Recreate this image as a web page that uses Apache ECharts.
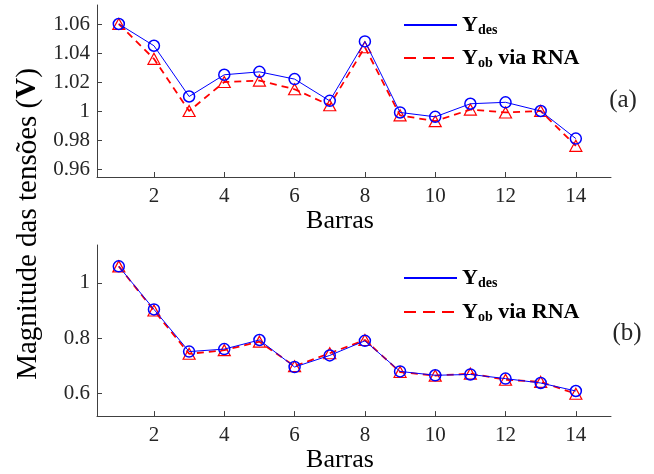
<!DOCTYPE html>
<html>
<head>
<meta charset="utf-8">
<script src="https://cdn.jsdelivr.net/npm/echarts@6/dist/echarts.min.js"></script>
<style>
  html, body { margin: 0; padding: 0; background: #fff; }
  #chart { width: 654px; height: 474px; }
</style>
</head>
<body>
<div id="chart"></div>
<script>
// Barras (eixo x)
const barras = [1, 2, 3, 4, 5, 6, 7, 8, 9, 10, 11, 12, 13, 14];
const xTicks = [2, 4, 6, 8, 10, 12, 14];

// (a) tensões
const ydesA = [1.060, 1.045, 1.010, 1.025, 1.027, 1.022, 1.007, 1.048, 0.999, 0.996, 1.005, 1.006, 1.000, 0.981];
const yobA  = [1.060, 1.036, 1.000, 1.020, 1.021, 1.015, 1.004, 1.044, 0.997, 0.993, 1.001, 0.999, 1.000, 0.976];
const yTicksA = [0.96, 0.98, 1.00, 1.02, 1.04, 1.06];

// (b) tensões
const ydesB = [1.060, 0.904, 0.751, 0.760, 0.793, 0.695, 0.737, 0.790, 0.679, 0.665, 0.668, 0.653, 0.637, 0.608];
const yobB  = [1.060, 0.900, 0.743, 0.756, 0.787, 0.698, 0.745, 0.793, 0.677, 0.664, 0.671, 0.649, 0.641, 0.598];
const yTicksB = [0.6, 0.8, 1.0];

const FONT = '"Liberation Serif", "DejaVu Serif", serif';
const AXIS_COLOR = '#404040';
const TEXT_COLOR = '#262626';

const chart = echarts.init(document.getElementById('chart'));

function xAxisFor(gridIndex) {
  return {
    type: 'value',
    gridIndex: gridIndex,
    min: 0.38,
    max: 15,
    name: 'Barras',
    nameLocation: 'middle',
    nameGap: gridIndex === 0 ? 29 : 26,
    nameTextStyle: { fontFamily: FONT, fontSize: 26, color: '#000', padding: [0, 28, 0, 0] },
    axisLine: { show: true, lineStyle: { color: AXIS_COLOR, width: 1 } },
    axisTick: { show: true, inside: true, length: 5, customValues: xTicks, lineStyle: { color: AXIS_COLOR } },
    axisLabel: { customValues: xTicks, fontFamily: FONT, fontSize: 21, color: TEXT_COLOR, margin: 9 },
    splitLine: { show: false }
  };
}

function yAxisFor(gridIndex, min, max, ticks) {
  return {
    type: 'value',
    gridIndex: gridIndex,
    min: min,
    max: max,
    axisLine: { show: true, lineStyle: { color: AXIS_COLOR, width: 1 } },
    axisTick: { show: true, inside: true, length: 5, customValues: ticks, lineStyle: { color: AXIS_COLOR } },
    axisLabel: {
      customValues: ticks,
      fontFamily: FONT, fontSize: 21, color: TEXT_COLOR, margin: 7,
      formatter: v => String(parseFloat(v.toFixed(2)))
    },
    splitLine: { show: false }
  };
}

function serieDes(idx, values) {
  return {
    type: 'line',
    xAxisIndex: idx, yAxisIndex: idx,
    data: barras.map((b, i) => [b, values[i]]),
    symbol: 'circle', symbolSize: 11,
    itemStyle: { color: 'rgba(0,0,0,0)', borderColor: '#0000ff', borderWidth: 1.5 },
    lineStyle: { color: '#0000ff', width: 1 },
    z: 3, animation: false
  };
}

function serieOb(idx, values) {
  return {
    type: 'line',
    xAxisIndex: idx, yAxisIndex: idx,
    data: barras.map((b, i) => [b, values[i]]),
    symbol: 'triangle', symbolSize: [12, 11],
    itemStyle: { color: 'rgba(0,0,0,0)', borderColor: '#ff0000', borderWidth: 1.2 },
    lineStyle: { color: '#ff0000', width: 1.8, type: [7, 5] },
    z: 2, animation: false
  };
}

// Legenda desenhada à mão (estilo MATLAB)
function legenda(y1, y2) {
  const rich = {
    Y: { fontFamily: FONT, fontSize: 22, fontWeight: 'bold', fill: '#000' },
    s: { fontFamily: FONT, fontSize: 14, fontWeight: 'bold', fill: '#000', padding: [10, 0, 0, 0] }
  };
  return [
    { type: 'line', shape: { x1: 404, y1: y1, x2: 457, y2: y1 }, style: { stroke: '#0000ff', lineWidth: 2 } },
    { type: 'text', x: 462, y: y1, style: { text: '{Y|Y}{s|des}', rich: rich, verticalAlign: 'middle' } },
    { type: 'line', shape: { x1: 404, y1: y2, x2: 457, y2: y2 }, style: { stroke: '#ff0000', lineWidth: 2, lineDash: [12, 7] } },
    { type: 'text', x: 462, y: y2, style: { text: '{Y|Y}{s|ob}{Y| via RNA}', rich: rich, verticalAlign: 'middle' } }
  ];
}

const option = {
  backgroundColor: '#ffffff',
  animation: false,
  grid: [
    { left: 97, top: 5, width: 514, height: 172 },
    { left: 97, top: 245, width: 514, height: 173 }
  ],
  xAxis: [xAxisFor(0), xAxisFor(1)],
  yAxis: [
    yAxisFor(0, 0.9545, 1.0731, yTicksA),
    yAxisFor(1, 0.517, 1.1375, yTicksB)
  ],
  series: [
    serieOb(0, yobA), serieDes(0, ydesA),
    serieOb(1, yobB), serieDes(1, ydesB)
  ],
  graphic: [
    ...legenda(25, 58),
    ...legenda(278, 312),
    { type: 'text', x: 623, y: 100, style: { text: '(a)', fontFamily: FONT, fontSize: 25, fill: TEXT_COLOR, align: 'center', verticalAlign: 'middle' } },
    { type: 'text', x: 627, y: 333, style: { text: '(b)', fontFamily: FONT, fontSize: 25, fill: TEXT_COLOR, align: 'center', verticalAlign: 'middle' } },
    {
      type: 'text', x: 28, y: 224, rotation: Math.PI / 2,
      style: {
        text: 'Magnitude das tensões ({b|V})',
        fontFamily: FONT, fontSize: 29, fill: '#000', align: 'center', verticalAlign: 'middle',
        rich: { b: { fontFamily: FONT, fontSize: 29, fontWeight: 'bold', fill: '#000' } }
      }
    }
  ]
};

chart.setOption(option);
window.addEventListener('resize', () => chart.resize());
</script>
</body>
</html>
